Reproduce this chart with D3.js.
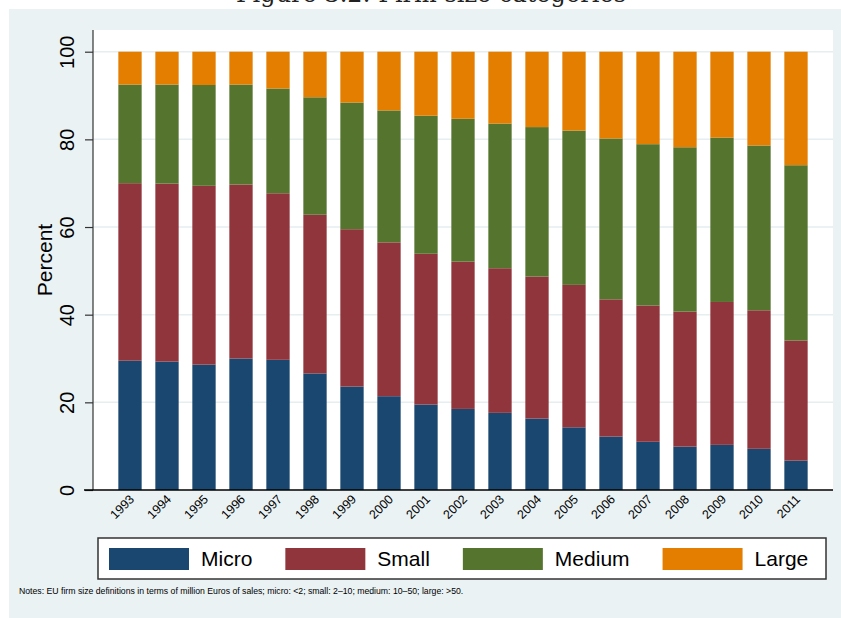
<!DOCTYPE html>
<html>
<head>
<meta charset="utf-8">
<script src="https://cdn.jsdelivr.net/npm/d3@7"></script>
<style>
  html, body { margin: 0; padding: 0; background: #ffffff; }
  svg { display: block; }
  text { font-family: "Liberation Sans", Arial, Helvetica, sans-serif; }
</style>
</head>
<body>
<svg id="chart" width="841" height="618"></svg>
<script>
// ---- data (shares in percent) ----
const years = ["1993","1994","1995","1996","1997","1998","1999","2000","2001","2002",
               "2003","2004","2005","2006","2007","2008","2009","2010","2011"];
const micro  = [29.5,29.3,28.6,30.0,29.7,26.6,23.6,21.4,19.5,18.5,17.6,16.3,14.3,12.2,11.0,9.9,10.3,9.4,6.7];
const small  = [40.5,40.6,40.8,39.7,38.0,36.2,35.9,35.1,34.4,33.6,33.0,32.4,32.5,31.3,31.1,30.8,32.6,31.6,27.4];
const medium = [22.5,22.6,23.0,22.8,23.9,26.8,28.9,30.1,31.5,32.6,33.0,34.1,35.2,36.7,36.8,37.5,37.5,37.6,40.0];
const large  = [7.5,7.5,7.6,7.5,8.4,10.4,11.6,13.4,14.6,15.3,16.4,17.2,18.0,19.8,21.1,21.8,19.6,21.4,25.9];
const seriesNames = ["Micro","Small","Medium","Large"];
const yTicks = [0,20,40,60,80,100];
const yLabel = "Percent";
const titleText = "Figure 3.2: Firm size categories";
const noteText = "Notes: EU firm size definitions in terms of million Euros of sales; micro: <2; small: 2\u201310; medium: 10\u201350; large: >50.";

const colors = ["#1a476f","#90353b","#55752f","#e37e00"];
const seriesValues = [micro, small, medium, large];

const table = years.map((y, i) => {
  const row = {year: y};
  seriesNames.forEach((s, k) => row[s] = seriesValues[k][i]);
  return row;
});

const svg = d3.select("#chart");
const W = 841, H = 618;
const plot = {left: 93, right: 833, top: 30, bottom: 490};

svg.append("rect").attr("x", 0).attr("y", 0).attr("width", W).attr("height", H).attr("fill", "#ffffff");
// title of the page figure, cut off by the top edge as in the reference
svg.append("text").attr("x", 431).attr("y", 2)
  .attr("text-anchor", "middle")
  .style("font-family", "'DejaVu Serif', 'Liberation Serif', serif")
  .style("font-size", "24px").attr("fill", "#222")
  .text(titleText);
svg.append("rect").attr("x", 9).attr("y", 9).attr("width", W - 9).attr("height", H - 9).attr("fill", "#eaf2f3");
svg.append("rect").attr("x", plot.left).attr("y", plot.top)
  .attr("width", plot.right - plot.left).attr("height", plot.bottom - plot.top).attr("fill", "#ffffff");

const x = d3.scaleBand().domain(years).range([plot.left, plot.right])
  .paddingInner(0.37).paddingOuter(0.685);
const y = d3.scaleLinear().domain([0, 100]).range([plot.bottom, 51.7]);

// gridlines
svg.append("g").selectAll("line").data(yTicks.filter(d => d > 0)).join("line")
  .attr("x1", plot.left).attr("x2", plot.right)
  .attr("y1", d => y(d)).attr("y2", d => y(d))
  .attr("stroke", "#e6eef0").attr("stroke-width", 1.5);

// stacked bars
const stack = d3.stack().keys(seriesNames)(table);
svg.append("g").selectAll("g").data(stack).join("g")
  .attr("fill", (d, i) => colors[i])
  .selectAll("rect").data(d => d).join("rect")
  .attr("x", d => x(d.data.year))
  .attr("width", x.bandwidth())
  .attr("y", d => y(d[1]))
  .attr("height", d => y(d[0]) - y(d[1]));

// y axis
const yAxis = d3.axisLeft(y).tickValues(yTicks).tickSize(8).tickPadding(0).tickFormat(d3.format("d"));
const gy = svg.append("g").attr("transform", `translate(${plot.left},0)`).call(yAxis);
gy.select(".domain").attr("d", `M0,${plot.top}V${plot.bottom}`).attr("stroke", "#333").attr("stroke-width", 1.2);
gy.selectAll(".tick line").attr("stroke", "#333").attr("stroke-width", 1.2);
gy.selectAll(".tick text")
  .attr("x", 0).attr("y", 0).attr("dy", 0)
  .attr("text-anchor", "middle")
  .attr("transform", "translate(-19,0) rotate(-90)")
  .style("font-size", "20px").attr("fill", "#000");

// x axis
const xAxis = d3.axisBottom(x).tickSize(0).tickPadding(0);
const gx = svg.append("g").attr("transform", `translate(0,${plot.bottom})`).call(xAxis);
gx.select(".domain").attr("d", `M${plot.left - 9},0H${plot.right}`).attr("stroke", "#000").attr("stroke-width", 1.5);
gx.selectAll(".tick text")
  .attr("x", 0).attr("y", 0).attr("dy", 0)
  .attr("text-anchor", "end")
  .attr("transform", "translate(5,10) rotate(-45)")
  .style("font-size", "12.5px").attr("fill", "#000");

// y label
svg.append("text").attr("transform", `translate(52,${(plot.top + plot.bottom) / 2}) rotate(-90)`)
  .attr("text-anchor", "middle").style("font-size", "21px").attr("fill", "#000")
  .text(yLabel);

// legend
const leg = {x: 98, y: 538, w: 728, h: 41};
svg.append("rect").attr("x", leg.x).attr("y", leg.y).attr("width", leg.w).attr("height", leg.h)
  .attr("fill", "#ffffff").attr("stroke", "#333").attr("stroke-width", 1.5);
let cx = 109;
seriesNames.forEach((s, i) => {
  svg.append("rect").attr("x", cx).attr("y", 548).attr("width", 80).attr("height", 22).attr("fill", colors[i]);
  const t = svg.append("text").attr("x", cx + 92).attr("y", 566)
    .style("font-size", "21px").attr("fill", "#000").text(s);
  cx = cx + 92 + t.node().getComputedTextLength() + 33;
});

// note
svg.append("text").attr("x", 19).attr("y", 594).style("font-size", "8.7px").attr("fill", "#000").text(noteText);
</script>
</body>
</html>
